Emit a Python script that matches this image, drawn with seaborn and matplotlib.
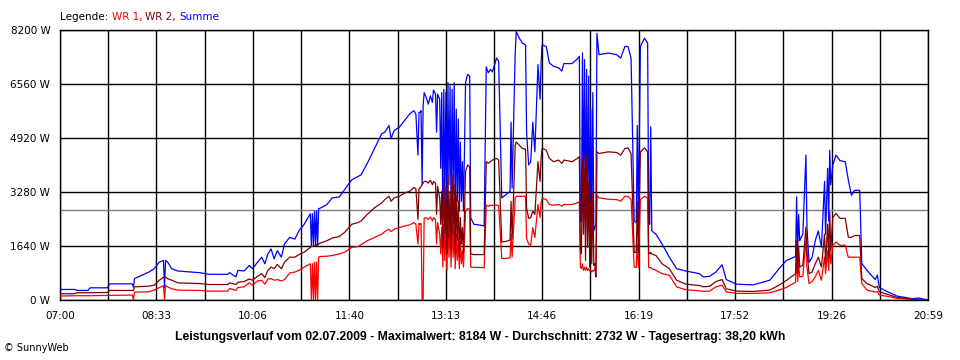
import matplotlib
matplotlib.use("Agg")
import matplotlib.pyplot as plt
import seaborn as sns
import pandas as pd

# minutes after 07:00
minutes = [
    0, 14, 17, 27, 29, 46, 48, 70, 71, 72,
    86, 91, 96, 100, 101, 102, 104, 108, 114, 135,
    144, 162, 164, 170, 172, 178, 183, 186, 191, 195,
    198, 201, 204, 207, 210, 214, 217, 222, 227, 231,
    236, 242, 243, 244, 245, 246, 247, 248, 249, 250,
    251, 258, 263, 270, 275, 282, 288, 291, 297, 304,
    311, 314, 318, 320, 323, 328, 333, 338, 342, 344,
    346, 347, 348, 349, 350, 351, 352, 354, 356, 358,
    360, 361, 363, 364, 365, 367, 368, 369, 370, 371,
    372, 373, 374, 375, 376, 377, 378, 379, 380, 381,
    382, 383, 384, 385, 386, 387, 388, 389, 390, 392,
    394, 396, 397, 400, 405, 410, 412, 414, 416, 418,
    422, 424, 427, 431, 435, 436, 437, 440, 441, 444,
    447, 450, 451, 453, 455, 457, 459, 462, 464, 465,
    466, 470, 473, 477, 482, 485, 487, 495, 500, 502,
    503, 504, 505, 506, 507, 508, 509, 510, 511, 512,
    513, 514, 515, 516, 517, 518, 519, 521, 530, 538,
    542, 546, 549, 552, 555, 557, 558, 559, 561, 565,
    568, 569, 570, 571, 572, 576, 582, 589, 596, 605,
    618, 622, 628, 634, 640, 644, 654, 670, 686, 695,
    702, 711, 712, 713, 714, 715, 718, 721, 722, 724,
    727, 730, 733, 736, 739, 740, 742, 743, 744, 745,
    747, 750, 754, 759, 762, 765, 768, 773, 775, 780,
    788, 790, 792, 800, 809, 824, 830, 839,
]

summe = [
    320, 320, 290, 290, 370, 370, 490, 490, 390, 650,
    850, 950, 1150, 1200, 380, 1200, 1150, 950, 880, 830,
    780, 780, 830, 700, 900, 880, 1050, 950, 1150, 1300,
    1100, 1400, 1550, 1250, 1500, 1300, 1700, 1900, 1850, 2100,
    2300, 2620, 1640, 2620, 1640, 2700, 1640, 2700, 1640, 2780,
    2780, 2900, 3100, 3130, 3350, 3650, 3750, 3800, 4150, 4600,
    5050, 5100, 5300, 4900, 5150, 5250, 5450, 5650, 5750, 5650,
    4400, 5700, 5700, 5750, 3500, 5900, 6300, 6150, 5950, 6200,
    6000, 6380, 6250, 5100, 6250, 6100, 4000, 6300, 2600, 6400,
    3000, 6300, 2500, 6600, 3500, 6500, 2700, 6400, 3200, 6600,
    2400, 5800, 3000, 5500, 2700, 4800, 3000, 4200, 2700, 6600,
    6850, 6800, 2500, 2300, 2280, 2250, 7080, 6900, 7000, 6930,
    7350, 7250, 3100, 3200, 3300, 5400, 3400, 7500, 8150, 7950,
    7800, 7750, 5100, 4100, 4200, 5400, 4500, 7150, 6100, 7200,
    7750, 7700, 7200, 7100, 7050, 6950, 7180, 7180, 7320, 7400,
    2370, 2400, 7500, 3000, 7300, 2200, 7000, 2500, 6800, 2100,
    5800, 2000, 6300, 2100, 2200, 2300, 8100, 7450, 7500, 7450,
    7350, 7700, 7700, 7340, 2400, 2350, 5300, 2400, 7700, 7950,
    7800, 2480, 2300, 5260, 2100, 2000, 1700, 1300, 950, 880,
    800, 700, 720, 850, 1070, 620, 480, 460, 600, 950,
    1200, 1320, 3130, 1400, 2600, 1800, 2000, 4400, 2200, 1140,
    1300, 1800, 2100, 1600, 3600, 2000, 4000, 2400, 4550, 3500,
    4100, 4400, 4230, 4200, 3640, 3180, 3330, 3330, 1110, 900,
    620, 760, 380, 250, 120, 40, 60, 0,
]

wr2 = [
    190, 190, 220, 220, 220, 230, 290, 290, 290, 400,
    420, 450, 600, 690, 690, 690, 650, 600, 520, 500,
    470, 470, 520, 470, 540, 560, 640, 600, 720, 800,
    680, 900, 1000, 950, 1080, 950, 1150, 1300, 1300, 1380,
    1450, 1600, 1630, 1630, 1630, 1650, 1650, 1680, 1680, 1700,
    1720, 1800, 1880, 1930, 2050, 2300, 2350, 2400, 2600, 2800,
    2950, 3050, 3150, 3000, 3100, 3150, 3250, 3300, 3420, 3380,
    2450, 3380, 3400, 3450, 3500, 3550, 3600, 3600, 3550, 3640,
    3500, 3600, 3550, 2600, 3450, 3100, 2300, 3300, 1600, 3700,
    2000, 3400, 1400, 3800, 1900, 3300, 1500, 3800, 2000, 3500,
    1400, 3200, 1800, 3000, 1300, 2500, 1700, 2200, 1400, 3900,
    4100, 4050, 1400, 1380, 1380, 1380, 4200, 4150, 4200, 4250,
    4300, 4250, 1760, 1780, 1820, 3000, 1850, 4700, 4800, 4700,
    4600, 4580, 2800, 2480, 2500, 2700, 2600, 4200, 3600, 4300,
    4610, 4550, 4300, 4200, 4250, 4150, 4250, 4200, 4300, 4350,
    1500, 1400, 4300, 2000, 4000, 1200, 4400, 1600, 3600, 1000,
    3000, 1100, 3300, 1050, 1100, 700, 4500, 4450, 4500, 4480,
    4400, 4600, 4620, 4450, 1450, 1440, 3000, 1440, 4500, 4620,
    4500, 1440, 1400, 1450, 1400, 1350, 1100, 950, 600, 480,
    440, 400, 420, 560, 620, 340, 270, 260, 300, 450,
    590, 800, 1810, 820, 1600, 1000, 1050, 2220, 1500, 800,
    850, 1100, 1300, 1000, 2000, 1100, 2300, 1300, 2680, 1500,
    2500, 2630, 2480, 2480, 1910, 1900, 1960, 1960, 650, 500,
    380, 420, 250, 170, 80, 20, 20, 0,
]

wr1 = [
    120, 130, 130, 130, 130, 140, 140, 150, 0, 240,
    250, 300, 380, 430, 0, 440, 400, 340, 300, 290,
    270, 270, 350, 290, 380, 400, 520, 450, 580, 600,
    480, 640, 650, 600, 620, 580, 620, 820, 850, 900,
    1000, 1100, 0, 1100, 0, 1150, 0, 1150, 0, 1300,
    1320, 1330, 1350, 1400, 1450, 1600, 1620, 1680, 1800, 1900,
    2000, 2080, 2150, 2080, 2150, 2200, 2250, 2280, 2350, 2300,
    1700, 2330, 2300, 2320, 0, 0, 2480, 2500, 2450, 2520,
    2400, 2500, 2450, 1700, 2350, 2000, 1400, 2200, 1000, 2300,
    1200, 2400, 900, 2500, 1300, 2300, 1000, 2400, 1300, 2200,
    950, 2000, 1200, 1900, 950, 1800, 1100, 1500, 1000, 2700,
    2780, 2750, 1000, 990, 990, 980, 2880, 2850, 2880, 2870,
    2880, 2860, 1260, 1260, 1280, 2000, 1300, 3100, 3150, 3150,
    3150, 3150, 1870, 1700, 1660, 2200, 1900, 2900, 2500, 2950,
    3090, 3050, 2900, 2880, 2900, 2850, 2900, 2900, 2950, 2980,
    1000, 950, 1100, 900, 1000, 900, 1000, 900, 950, 880,
    900, 850, 900, 880, 950, 900, 3180, 3100, 3060, 3050,
    3000, 3150, 3150, 3050, 990, 990, 1700, 990, 3050, 3150,
    3100, 990, 980, 990, 950, 900, 800, 750, 400, 310,
    280, 260, 270, 400, 450, 250, 200, 200, 220, 300,
    380, 540, 1420, 560, 1100, 700, 720, 1810, 1000, 500,
    560, 700, 900, 600, 1300, 800, 1500, 900, 1710, 1100,
    1650, 1760, 1660, 1660, 1300, 1300, 1300, 1300, 500, 300,
    240, 260, 150, 110, 50, 15, 10, 0,
]

y_ticks = [0, 1640, 3280, 4920, 6560, 8200]
x_labels = ["07:00", "08:33", "10:06", "11:40", "13:13",
            "14:46", "16:19", "17:52", "19:26", "20:59"]
average = 2732
title = ("Leistungsverlauf vom 02.07.2009 - Maximalwert: 8184 W - "
         "Durchschnitt: 2732 W - Tagesertrag: 38,20 kWh")

sns.set_style("white")
plt.rcParams["font.family"] = ["DejaVu Sans"]
plt.rcParams["text.color"] = "black"
plt.rcParams["xtick.color"] = "black"
plt.rcParams["ytick.color"] = "black"
plt.rcParams["xtick.labelcolor"] = "black"
plt.rcParams["ytick.labelcolor"] = "black"

fig = plt.figure(figsize=(9.6, 3.6), dpi=100)
ax = fig.add_axes([60 / 960, 60 / 360, 868 / 960, 270 / 360])

df = pd.DataFrame({"t": minutes, "Summe": summe, "WR 1": wr1, "WR 2": wr2})
colors = {"Summe": "#0000FF", "WR 1": "#FF0000", "WR 2": "#800000"}
for name in ["Summe", "WR 1", "WR 2"]:
    sns.lineplot(data=df, x="t", y=name, ax=ax, color=colors[name],
                 lw=0.9, estimator=None, sort=False, zorder=3)

ax.axhline(average, color="#808080", lw=1.0, zorder=2)

total = 839
xt = [total * k / 18 for k in range(19)]
ax.set_xticks(xt)
ax.set_xticklabels([x_labels[k // 2] if k % 2 == 0 else "" for k in range(19)])
ax.set_yticks(y_ticks)
ax.set_yticklabels([f"{v} W" for v in y_ticks])
ax.set_xlim(0, total)
ax.set_ylim(0, 8200)
ax.grid(True, color="black", lw=1.0, zorder=1)
ax.set_xlabel("")
ax.set_ylabel("")
ax.tick_params(axis="both", which="both", length=5, width=1.0,
               color="black", labelcolor="black", labelsize=7.5, pad=2,
               direction="out")
ax.tick_params(axis="x", pad=3)
for s in ax.spines.values():
    s.set_color("black")
    s.set_linewidth(1.0)
ax.spines["top"].set_visible(True)
ax.spines["right"].set_visible(True)

# legend line at the top
t0 = fig.text(60 / 960, 1 - 17 / 360, "Legende: ", fontsize=7.5,
              va="center", ha="left", color="black")
t1 = ax.annotate("WR 1, ", xy=(1, 0.5), xycoords=t0, va="center",
                 ha="left", fontsize=7.5, color="#FF0000")
t2 = ax.annotate("WR 2, ", xy=(1, 0.5), xycoords=t1, va="center",
                 ha="left", fontsize=7.5, color="#800000")
ax.annotate("Summe", xy=(1, 0.5), xycoords=t2, va="center",
            ha="left", fontsize=7.5, color="#0000FF")

fig.text(480 / 960, 1 - 337 / 360, title, fontsize=8.8, fontweight="bold",
         color="black", ha="center", va="center",
         family=["Liberation Sans", "DejaVu Sans"])
fig.text(4 / 960, 1 - 348 / 360, "© SunnyWeb", fontsize=7, color="black",
         ha="left", va="center")

fig.savefig("out.png", dpi=100)
